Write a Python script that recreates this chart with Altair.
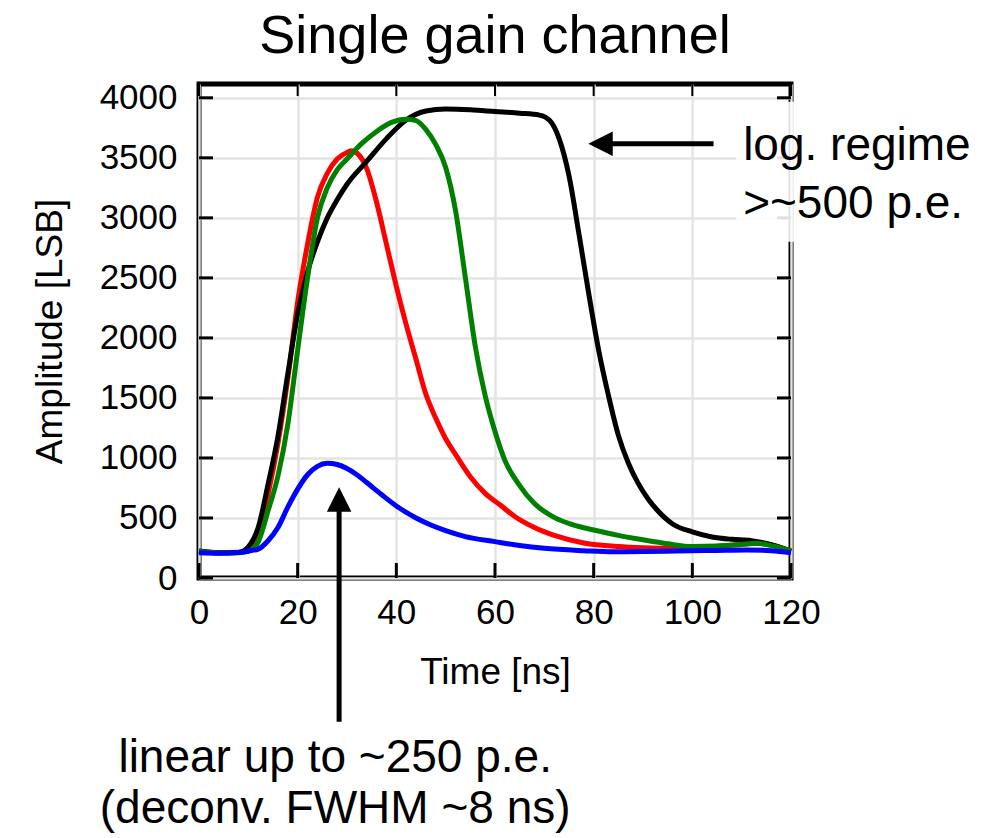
import altair as alt
import pandas as pd

FONT = "Liberation Sans"

TITLE = "Single gain channel"
X_TITLE = "Time [ns]"
Y_TITLE = "Amplitude [LSB]"
X_TICKS = [0, 20, 40, 60, 80, 100, 120]
Y_TICKS = [0, 500, 1000, 1500, 2000, 2500, 3000, 3500, 4000]
X_DOMAIN = [0, 120]
Y_DOMAIN = [0, 4115]

# ---- waveforms ----
red_t = [0, 4, 8, 10, 12, 14, 16, 18, 20, 22, 24, 26, 28, 30, 31, 32, 34, 36, 38, 40, 42, 44, 46,
         48, 50, 52, 55, 58, 61, 64, 68, 72, 78, 85, 90, 97, 104, 110, 113, 116, 120]
red_a = [222, 210, 214, 240, 380, 700, 1120, 1660, 2300, 2780, 3170, 3370, 3490, 3545, 3558, 3540,
         3410, 3130, 2780, 2430, 2110, 1820, 1530, 1330, 1160, 1030, 844, 705, 610, 512, 420, 355,
         292, 262, 252, 247, 262, 280, 289, 275, 225]

black_t = [0, 4, 8, 10, 12, 14, 16, 18, 20, 22, 24, 26, 28, 30, 34, 38, 42, 46, 50, 55, 60, 65, 69,
           71, 73, 75, 77, 79, 81, 83, 85, 87, 89, 91, 93, 96, 100, 104, 108, 112, 116, 120]
black_a = [225, 210, 213, 260, 420, 780, 1180, 1700, 2200, 2550, 2800, 3000, 3150, 3280, 3470, 3660,
           3815, 3890, 3906, 3900, 3886, 3872, 3856, 3815, 3660, 3350, 2870, 2370, 1900, 1520, 1190,
           960, 790, 660, 560, 450, 385, 342, 322, 311, 278, 222]

green_t = [0, 4, 8, 10, 12, 14, 16, 18, 20, 22, 24, 26, 28, 30, 33, 36, 39, 42, 44, 46, 48, 50, 52,
           54, 56, 58, 60, 62, 65, 68, 72, 76, 80, 85, 90, 95, 100, 105, 110, 113, 116, 120]
green_a = [220, 208, 210, 222, 300, 560, 850, 1280, 1900, 2500, 3000, 3250, 3400, 3490, 3620, 3720,
           3795, 3822, 3810, 3735, 3610, 3420, 3060, 2500, 1930, 1520, 1220, 980, 770, 620, 505, 440,
           400, 355, 318, 285, 262, 266, 280, 290, 270, 230]

blue_t = [0, 4, 8, 10, 12, 14, 16, 18, 20, 22, 24, 26, 28, 30, 32, 34, 37, 40, 44, 47, 50, 54, 60,
          65, 70, 78, 84, 90, 97, 105, 111, 116, 120]
blue_a = [210, 206, 212, 225, 240, 310, 420, 590, 740, 860, 930, 955, 945, 912, 860, 795, 695, 600,
          500, 442, 395, 345, 303, 270, 247, 228, 219, 220, 225, 230, 233, 228, 211]

SERIES = [("red", "#ff0000", red_t, red_a),
          ("black", "#000000", black_t, black_a),
          ("green", "#008000", green_t, green_a),
          ("blue", "#0000ff", blue_t, blue_a)]

# ---- annotations (data units) ----
LOG_TEXT = ["log. regime", ">~500 p.e."]
LOG_TEXT_X = 110.3
LOG_TEXT_Y = [3483, 3000]
LIN_TEXT = ["linear up to ~250 p.e.", "(deconv. FWHM ~8 ns)"]
LIN_TEXT_X = 27.6
LIN_TEXT_Y = [-1614, -2042]
H_ARROW = {"tip": 78.9, "tail": 104.3, "y": 3617}
V_ARROW = {"x": 28.4, "tip": 756, "tail": -1198}
BOX = {"x": 108.9, "x2": 158, "y": 2800, "y2": 3967}

W, H = 592, 494
XS = alt.Scale(domain=X_DOMAIN, nice=False, zero=False)
YS = alt.Scale(domain=Y_DOMAIN, nice=False, zero=False)

x_axis = alt.Axis(values=X_TICKS, title=X_TITLE, grid=True, gridColor="#e4e4e4", gridWidth=2.5,
                  ticks=False, domain=False, format="d", labelFont=FONT, labelFontSize=35,
                  labelColor="black", labelPadding=17, labelOverlap=False, labelFlush=False,
                  titleFont=FONT, titleFontSize=37, titleFontWeight="normal", titleColor="black",
                  titlePadding=24)
y_axis = alt.Axis(values=Y_TICKS, title=Y_TITLE, grid=True, gridColor="#e4e4e4", gridWidth=2.5,
                  ticks=False, domain=False, format="d", labelFont=FONT, labelFontSize=35,
                  labelColor="black", labelPadding=22, labelOverlap=False, labelFlush=False,
                  titleFont=FONT, titleFontSize=37, titleFontWeight="normal", titleColor="black",
                  titlePadding=30)


def X(field):
    return alt.X(field, scale=XS, axis=x_axis)


def Y(field):
    return alt.Y(field, scale=YS, axis=y_axis)


layers = []
for name, col, ts, amps in SERIES:
    d = pd.DataFrame({"t": ts, "amp": amps})
    layers.append(
        alt.Chart(d).mark_line(color=col, strokeWidth=5, interpolate="monotone").encode(
            x=X("t:Q"), y=Y("amp:Q"))
    )

yt = pd.DataFrame({"v": Y_TICKS})
xt = pd.DataFrame({"v": X_TICKS})
left_ticks = alt.Chart(yt).mark_rule(color="black", strokeWidth=3).encode(
    y=Y("v:Q"), x=alt.value(0), x2=alt.value(14))
right_ticks = alt.Chart(yt).mark_rule(color="black", strokeWidth=3).encode(
    y=Y("v:Q"), x=alt.value(W - 14), x2=alt.value(W))
bottom_ticks = alt.Chart(xt).mark_rule(color="black", strokeWidth=3).encode(
    x=X("v:Q"), y=alt.value(H - 15), y2=alt.value(H))
top_ticks = alt.Chart(xt).mark_rule(color="black", strokeWidth=2).encode(
    x=X("v:Q"), y=alt.value(0), y2=alt.value(12))

box = alt.Chart(pd.DataFrame([BOX])).mark_rect(color="white", opacity=0.88).encode(
    x=X("x:Q"), x2="x2:Q", y=Y("y:Q"), y2="y2:Q")

h_line = alt.Chart(pd.DataFrame([{"x": H_ARROW["tip"] + 3, "x2": H_ARROW["tail"], "y": H_ARROW["y"]}])
                   ).mark_rule(color="black", strokeWidth=5).encode(
    x=X("x:Q"), x2="x2:Q", y=Y("y:Q"))
v_line = alt.Chart(pd.DataFrame([{"x": V_ARROW["x"], "y": V_ARROW["tip"] - 100, "y2": V_ARROW["tail"]}])
                   ).mark_rule(color="black", strokeWidth=5).encode(
    x=X("x:Q"), y=Y("y:Q"), y2="y2:Q")
h_head = alt.Chart(pd.DataFrame([{"x": H_ARROW["tip"], "y": H_ARROW["y"]}])).mark_point(
    shape="M0,0L2,-1L2,1Z", filled=True, size=600, color="black", opacity=1, strokeWidth=0).encode(
    x=X("x:Q"), y=Y("y:Q"))
v_head = alt.Chart(pd.DataFrame([{"x": V_ARROW["x"], "y": V_ARROW["tip"]}])).mark_point(
    shape="M0,0L-1,2L1,2Z", filled=True, size=600, color="black", opacity=1, strokeWidth=0).encode(
    x=X("x:Q"), y=Y("y:Q"))

log_df = pd.DataFrame({"x": [LOG_TEXT_X] * 2, "y": LOG_TEXT_Y, "txt": LOG_TEXT})
lin_df = pd.DataFrame({"x": [LIN_TEXT_X] * 2, "y": LIN_TEXT_Y, "txt": LIN_TEXT})
log_txt = alt.Chart(log_df).mark_text(align="left", baseline="alphabetic", font=FONT, fontSize=46,
                                      color="black").encode(
    x=X("x:Q"), y=Y("y:Q"), text="txt:N")
lin_txt = alt.Chart(lin_df).mark_text(align="center", baseline="alphabetic", font=FONT, fontSize=46,
                                      color="black").encode(
    x=X("x:Q"), y=Y("y:Q"), text="txt:N")

chart = alt.layer(
    *layers, left_ticks, right_ticks, bottom_ticks, top_ticks, box,
    h_line, v_line, h_head, v_head, log_txt, lin_txt
).properties(
    width=W, height=H,
    title=alt.TitleParams(TITLE, font=FONT, fontSize=54, fontWeight="normal", color="black",
                          anchor="middle", offset=17),
    padding={"left": 199, "top": 84, "right": 202, "bottom": 260},
    autosize=alt.AutoSizeParams(type="none"),
).configure_view(stroke="black", strokeWidth=5)

chart.save("out.html", embed_options={"renderer": "svg", "actions": False})
